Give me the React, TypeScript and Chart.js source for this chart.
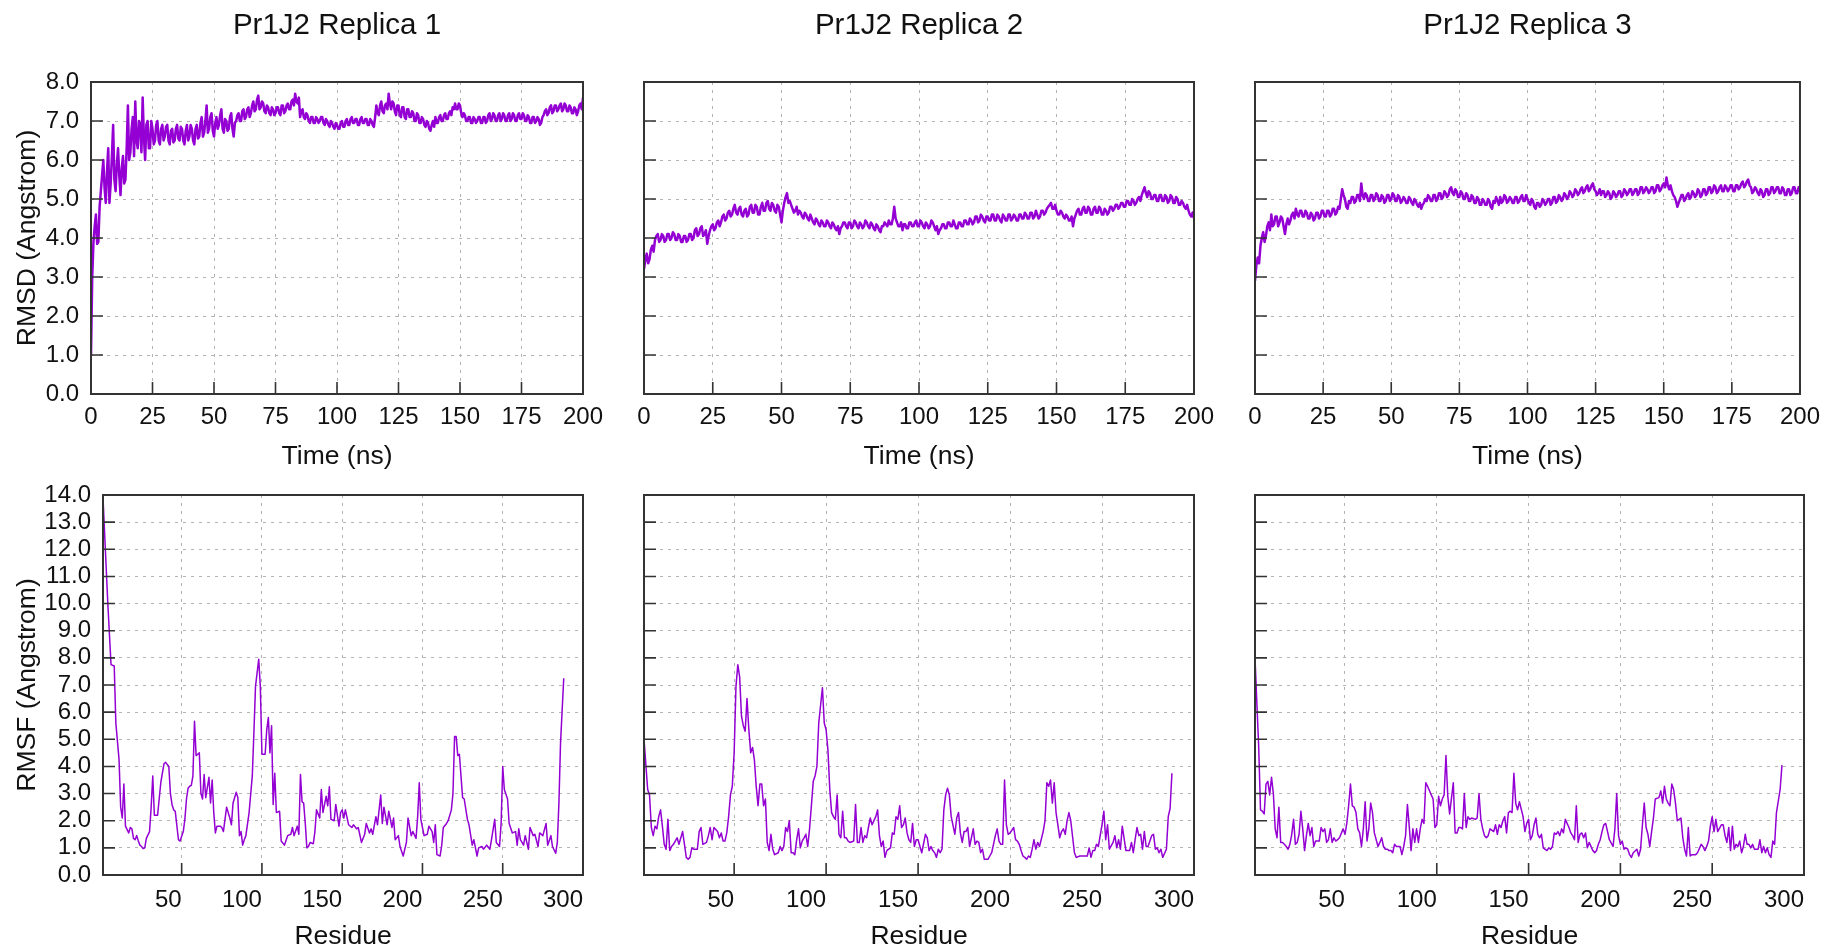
import React, { useEffect, useRef } from "react";
import { Chart, registerables } from "chart.js";

Chart.register(...registerables);

const PAGE_W = 1829;
const PAGE_H = 950;
const FONT = "'Liberation Sans', Arimo, Arial, Helvetica, sans-serif";
const LINE_COLOR = "#9400D3";
const TEXT_COLOR = "#111111";
const GRID_COLOR = "#b3b3b3";
const FRAME_COLOR = "#333333";

const TITLES = ["Pr1J2 Replica 1", "Pr1J2 Replica 2", "Pr1J2 Replica 3"];
const RMSD_AXIS_TITLE = "RMSD (Angstrom)";
const RMSF_AXIS_TITLE = "RMSF (Angstrom)";
const TIME_AXIS_TITLE = "Time (ns)";
const RESIDUE_AXIS_TITLE = "Residue";

const TIME_STEP_NS = 0.5;
const TIME_TICKS = [0, 25, 50, 75, 100, 125, 150, 175, 200];
const RMSD_TICKS = [0, 1, 2, 3, 4, 5, 6, 7, 8];
const RESIDUE_TICKS = [50, 100, 150, 200, 250, 300];
const RMSF_TICKS = [0, 1, 2, 3, 4, 5, 6, 7, 8, 9, 10, 11, 12, 13, 14];

// RMSD (Angstrom), one value per 0.5 ns, t = 0..200 (each row = 10 ns)
const RMSD1 = [
  1.0, 3.0, 3.9, 4.3, 4.6, 3.85, 3.9, 4.8, 5.2, 5.6, 6.0, 5.3, 4.9, 5.7, 6.3, 4.9, 5.4, 6.1, 6.9, 5.5,
  5.2, 5.9, 6.3, 5.6, 5.1, 5.8, 6.1, 5.4, 5.5, 6.3, 7.4, 6.0, 6.2, 6.8, 7.1, 6.1, 7.5, 6.5, 6.3, 7.0,
  6.9, 6.2, 7.6, 6.6, 6.0, 6.9, 7.0, 6.3, 6.3, 7.0, 6.8, 6.4, 6.5, 6.9, 7.0, 6.5, 6.4, 6.8, 6.9, 6.5,
  6.6, 6.85, 6.9, 6.5, 6.4, 6.75, 6.8, 6.45, 6.5, 6.8, 6.9, 6.55, 6.5, 6.85, 6.8, 6.5, 6.4, 6.75, 6.9, 6.5,
  6.6, 6.9, 6.8, 6.5, 6.4, 6.8, 6.9, 6.55, 6.6, 6.95, 7.1, 6.6, 6.7, 7.0, 7.4, 6.7, 6.8, 7.1, 7.2, 6.75,
  6.6, 6.95, 7.1, 6.8, 6.9, 7.15, 7.3, 6.8, 6.7, 7.05, 7.0, 6.75, 6.8, 7.1, 7.2, 6.8, 6.6, 6.95, 7.0, 7.15,
  7.2, 7.0, 7.0, 7.25, 7.3, 7.05, 7.1, 7.3, 7.35, 7.1, 7.2, 7.4, 7.5, 7.25, 7.3, 7.55, 7.65, 7.3, 7.35, 7.5,
  7.45, 7.25, 7.2, 7.4, 7.35, 7.2, 7.15, 7.35, 7.3, 7.15, 7.2, 7.35, 7.35, 7.2, 7.15, 7.4, 7.4, 7.2, 7.25, 7.4,
  7.45, 7.3, 7.3, 7.5, 7.55, 7.4, 7.7, 7.5, 7.45, 7.6, 7.1, 7.25, 7.3, 7.1, 7.05, 7.2, 7.15, 7.0, 6.95, 7.1,
  7.1, 6.95, 6.95, 7.1, 7.05, 6.95, 7.0, 7.1, 7.1, 6.95, 6.9, 7.05, 7.0, 6.9, 6.85, 7.0, 6.95, 6.85, 6.8, 6.95,
  6.9, 6.8, 6.8, 6.95, 7.0, 6.85, 6.85, 7.0, 7.05, 6.9, 6.9, 7.05, 7.1, 6.95, 6.95, 7.05, 7.05, 6.9, 6.9, 7.05,
  7.1, 6.95, 6.95, 7.05, 7.05, 6.9, 6.9, 7.05, 7.0, 6.9, 6.85, 7.1, 7.4, 7.2, 7.15, 7.4, 7.5, 7.25, 7.2, 7.4,
  7.45, 7.3, 7.7, 7.45, 7.3, 7.5, 7.45, 7.25, 7.15, 7.4, 7.4, 7.15, 7.1, 7.35, 7.35, 7.1, 7.05, 7.3, 7.3, 7.1,
  7.1, 7.25, 7.2, 7.0, 7.0, 7.2, 7.15, 6.95, 6.95, 7.1, 7.05, 6.9, 6.85, 7.0, 6.95, 6.8, 6.75, 6.9, 7.0, 6.85,
  7.1, 6.95, 6.95, 7.1, 7.15, 7.0, 7.0, 7.15, 7.2, 7.05, 7.05, 7.2, 7.25, 7.15, 7.35, 7.3, 7.45, 7.3, 7.3, 7.45,
  7.4, 7.2, 7.1, 7.2, 7.15, 7.0, 7.0, 7.1, 7.1, 6.95, 6.95, 7.1, 7.05, 6.95, 7.0, 7.1, 7.1, 6.95, 6.95, 7.1,
  7.1, 6.95, 7.0, 7.15, 7.2, 7.0, 7.05, 7.2, 7.15, 7.0, 7.0, 7.15, 7.2, 7.0, 7.05, 7.2, 7.15, 7.0, 7.0, 7.15,
  7.2, 7.0, 7.05, 7.2, 7.15, 7.0, 7.0, 7.15, 7.2, 7.05, 7.05, 7.2, 7.15, 7.0, 7.0, 7.15, 7.1, 6.95, 6.95, 7.1,
  7.1, 6.95, 7.0, 7.1, 7.05, 6.9, 6.95, 7.1, 7.15, 7.25, 7.3, 7.15, 7.2, 7.35, 7.4, 7.2, 7.25, 7.4, 7.4, 7.25,
  7.3, 7.4, 7.45, 7.25, 7.3, 7.45, 7.4, 7.25, 7.25, 7.4, 7.35, 7.2, 7.2, 7.35, 7.3, 7.15, 7.25, 7.4, 7.45, 7.3,
  7.6,
];
const RMSD2 = [
  3.2, 3.45, 3.6, 3.35, 3.45, 3.7, 3.8, 3.65, 3.95, 4.05, 4.1, 3.9, 3.95, 4.1, 4.05, 3.9, 3.95, 4.1, 4.1, 3.95,
  4.0, 4.15, 4.1, 3.95, 3.95, 4.1, 4.05, 3.9, 3.9, 4.05, 4.05, 3.9, 3.95, 4.1, 4.1, 3.95, 4.0, 4.2, 4.25, 4.05,
  4.1, 4.25, 4.3, 4.05, 4.1, 4.2, 3.85, 4.05, 4.2, 4.3, 4.35, 4.2, 4.25, 4.4, 4.45, 4.3, 4.4, 4.55, 4.6, 4.45,
  4.5, 4.65, 4.7, 4.55, 4.6, 4.75, 4.85, 4.65, 4.6, 4.75, 4.8, 4.6, 4.55, 4.7, 4.75, 4.55, 4.6, 4.8, 4.85, 4.65,
  4.65, 4.85, 4.8, 4.6, 4.6, 4.8, 4.9, 4.7, 4.7, 4.9, 4.95, 4.75, 4.7, 4.9, 4.85, 4.7, 4.65, 4.85, 4.8, 4.6,
  4.4, 4.7, 4.9, 5.05, 5.15, 4.9, 4.95, 4.85, 4.75, 4.65, 4.7, 4.8, 4.6, 4.7, 4.65, 4.55, 4.5, 4.65, 4.6, 4.5,
  4.45, 4.6, 4.5, 4.4, 4.35, 4.5, 4.45, 4.35, 4.3, 4.45, 4.4, 4.3, 4.3, 4.45, 4.4, 4.3, 4.25, 4.4, 4.35, 4.25,
  4.2, 4.3, 4.1, 4.25, 4.3, 4.4, 4.4, 4.3, 4.25, 4.4, 4.4, 4.25, 4.3, 4.45, 4.4, 4.3, 4.25, 4.4, 4.35, 4.25,
  4.3, 4.45, 4.4, 4.3, 4.25, 4.4, 4.35, 4.25, 4.2, 4.35, 4.3, 4.2, 4.15, 4.3, 4.3, 4.4, 4.35, 4.3, 4.45, 4.35,
  4.35, 4.5, 4.8, 4.5, 4.4, 4.3, 4.3, 4.4, 4.2, 4.35, 4.35, 4.25, 4.25, 4.4, 4.4, 4.3, 4.3, 4.4, 4.45, 4.3,
  4.3, 4.45, 4.4, 4.3, 4.25, 4.4, 4.35, 4.25, 4.3, 4.45, 4.4, 4.3, 4.2, 4.3, 4.1, 4.2, 4.25, 4.35, 4.35, 4.25,
  4.25, 4.4, 4.4, 4.3, 4.3, 4.45, 4.35, 4.25, 4.25, 4.4, 4.4, 4.3, 4.3, 4.45, 4.45, 4.35, 4.35, 4.5, 4.45, 4.35,
  4.4, 4.55, 4.55, 4.4, 4.45, 4.6, 4.55, 4.45, 4.4, 4.55, 4.55, 4.45, 4.45, 4.6, 4.6, 4.45, 4.45, 4.6, 4.55, 4.45,
  4.4, 4.6, 4.55, 4.45, 4.45, 4.6, 4.6, 4.45, 4.5, 4.6, 4.55, 4.45, 4.45, 4.6, 4.6, 4.5, 4.5, 4.65, 4.6, 4.5,
  4.5, 4.65, 4.65, 4.5, 4.55, 4.7, 4.6, 4.5, 4.55, 4.7, 4.7, 4.6, 4.65, 4.75, 4.8, 4.85, 4.9, 4.75, 4.75, 4.85,
  4.7, 4.6, 4.6, 4.7, 4.65, 4.55, 4.5, 4.6, 4.55, 4.45, 4.45, 4.55, 4.3, 4.5, 4.6, 4.7, 4.75, 4.6, 4.6, 4.75,
  4.8, 4.65, 4.65, 4.8, 4.75, 4.6, 4.6, 4.75, 4.8, 4.65, 4.65, 4.8, 4.75, 4.6, 4.6, 4.75, 4.7, 4.6, 4.65, 4.8,
  4.8, 4.7, 4.75, 4.85, 4.85, 4.75, 4.8, 4.9, 4.9, 4.8, 4.8, 4.95, 4.95, 4.85, 4.85, 5.0, 4.95, 4.85, 4.9, 5.0,
  5.05, 4.95, 5.1, 5.2, 5.3, 5.15, 5.05, 5.2, 5.15, 5.0, 5.0, 5.1, 5.1, 4.95, 4.95, 5.1, 5.1, 4.95, 4.95, 5.1,
  5.05, 4.9, 4.95, 5.1, 5.05, 4.9, 4.9, 5.05, 5.0, 4.85, 4.85, 4.95, 4.9, 4.8, 4.75, 4.85, 4.7, 4.6, 4.55, 4.65,
  4.5,
];
const RMSD3 = [
  2.9, 3.3, 3.5, 3.35, 3.8, 4.0, 4.15, 3.9, 4.05, 4.3, 4.4, 4.2, 4.6, 4.3, 4.35, 4.55, 4.55, 4.3, 4.4, 4.55,
  4.5, 4.3, 4.1, 4.35, 4.5, 4.35, 4.45, 4.6, 4.65, 4.5, 4.75, 4.6, 4.55, 4.7, 4.7, 4.55, 4.55, 4.7, 4.65, 4.5,
  4.5, 4.65, 4.6, 4.45, 4.5, 4.65, 4.65, 4.5, 4.55, 4.7, 4.7, 4.55, 4.55, 4.7, 4.7, 4.55, 4.6, 4.75, 4.75, 4.6,
  4.65, 4.8, 4.75, 5.0, 5.25, 5.1, 5.0, 4.8, 4.75, 4.95, 4.9, 5.05, 5.05, 4.9, 4.95, 5.1, 5.1, 4.95, 5.4, 5.1,
  5.0, 5.15, 5.1, 4.95, 4.95, 5.1, 5.1, 4.95, 5.0, 5.15, 5.1, 4.95, 4.95, 5.1, 5.05, 4.9, 4.95, 5.1, 5.1, 4.95,
  5.0, 5.15, 5.1, 4.95, 4.95, 5.1, 5.05, 4.9, 4.95, 5.05, 5.0, 4.9, 4.9, 5.05, 5.0, 4.9, 4.85, 5.0, 4.95, 4.85,
  4.8, 4.9, 4.75, 4.85, 4.9, 5.0, 4.95, 5.1, 5.05, 4.95, 4.95, 5.1, 5.1, 4.95, 5.0, 5.15, 5.15, 5.0, 5.05, 5.2,
  5.15, 5.05, 5.1, 5.25, 5.3, 5.15, 5.1, 5.25, 5.2, 5.05, 5.05, 5.2, 5.15, 5.0, 5.0, 5.15, 5.1, 4.95, 4.95, 5.1,
  5.05, 4.9, 4.9, 5.05, 5.0, 4.85, 4.85, 5.0, 4.95, 4.85, 4.85, 5.0, 4.95, 4.8, 4.75, 4.95, 4.9, 5.05, 4.95, 4.85,
  5.05, 4.9, 4.95, 5.1, 5.05, 4.9, 4.95, 5.05, 5.0, 4.9, 4.9, 5.05, 5.05, 4.9, 4.95, 5.05, 5.1, 4.95, 4.95, 5.1,
  5.0, 4.9, 4.85, 5.0, 4.95, 4.8, 4.75, 4.9, 4.9, 4.8, 4.85, 5.0, 4.95, 4.85, 4.9, 5.0, 5.0, 4.85, 4.9, 5.05,
  5.05, 4.9, 4.95, 5.1, 5.05, 4.95, 5.0, 5.15, 5.1, 5.0, 5.05, 5.2, 5.15, 5.05, 5.1, 5.25, 5.2, 5.1, 5.15, 5.25,
  5.3, 5.15, 5.2, 5.3, 5.35, 5.2, 5.25, 5.35, 5.4, 5.25, 5.2, 5.1, 5.15, 5.25, 5.1, 5.2, 5.2, 5.05, 5.1, 5.2,
  5.15, 5.0, 5.05, 5.2, 5.15, 5.05, 5.1, 5.2, 5.2, 5.05, 5.1, 5.25, 5.2, 5.1, 5.15, 5.25, 5.25, 5.1, 5.15, 5.25,
  5.25, 5.1, 5.15, 5.3, 5.3, 5.15, 5.2, 5.3, 5.25, 5.15, 5.2, 5.3, 5.3, 5.15, 5.2, 5.35, 5.35, 5.2, 5.25, 5.35,
  5.4, 5.3, 5.55, 5.35, 5.25, 5.35, 5.2, 5.1, 5.05, 4.95, 4.8, 4.9, 5.0, 5.1, 5.1, 4.95, 5.0, 5.1, 5.15, 5.0,
  5.05, 5.2, 5.15, 5.05, 5.1, 5.25, 5.2, 5.05, 5.1, 5.25, 5.25, 5.1, 5.15, 5.3, 5.3, 5.15, 5.2, 5.35, 5.3, 5.15,
  5.2, 5.3, 5.35, 5.2, 5.2, 5.35, 5.3, 5.2, 5.25, 5.35, 5.35, 5.2, 5.2, 5.35, 5.35, 5.25, 5.3, 5.4, 5.45, 5.3,
  5.35, 5.45, 5.5, 5.35, 5.3, 5.15, 5.2, 5.3, 5.25, 5.15, 5.1, 5.25, 5.2, 5.05, 5.1, 5.25, 5.25, 5.1, 5.15, 5.3,
  5.3, 5.15, 5.2, 5.3, 5.3, 5.15, 5.15, 5.3, 5.25, 5.1, 5.1, 5.25, 5.25, 5.1, 5.15, 5.3, 5.3, 5.15, 5.15, 5.3,
  5.25,
];

// RMSF (Angstrom) per residue
const RMSF1_RES = [
  1, 4, 6, 8, 9, 11, 12, 13, 14, 15,
  17, 18, 19, 20, 21, 22, 23, 24, 25, 26,
  27, 28, 30, 31, 32, 33, 35, 37, 39, 40,
  42, 43, 44, 45, 46, 48, 49, 51, 52, 53,
  54, 55, 56, 57, 58, 59, 60, 61, 62, 63,
  64, 65, 67, 68, 69, 70, 71, 72, 74, 75,
  76, 78, 80, 81, 82, 84, 85, 86, 87, 88,
  89, 90, 92, 94, 95, 96, 98, 99, 100, 102,
  103, 104, 105, 106, 107, 108, 109, 111, 112, 114,
  116, 118, 119, 120, 122, 123, 124, 125, 126, 127,
  128, 129, 130, 132, 133, 134, 136, 137, 138, 140,
  141, 142, 143, 145, 146, 148, 149, 150, 151, 152,
  154, 156, 157, 159, 160, 162, 164, 165, 167, 168,
  169, 171, 172, 174, 175, 176, 178, 179, 181, 182,
  183, 185, 186, 188, 190, 191, 193, 194, 196, 197,
  198, 199, 201, 203, 204, 206, 207, 208, 209, 211,
  212, 213, 215, 216, 218, 219, 220, 221, 222, 223,
  225, 226, 228, 229, 231, 232, 234, 235, 237, 238,
  240, 242, 243, 245, 246, 248, 249, 250, 251, 253,
  254, 256, 258, 259, 260, 261, 263, 264, 266, 267,
  269, 270, 272, 273, 275, 277, 278, 280, 281, 283,
  284, 285, 286, 288,
];
const RMSF1_VAL = [
  13.9, 10.0, 7.75, 7.7, 5.6, 4.25, 2.5, 2.1, 3.35, 1.8,
  1.55, 1.75, 1.7, 1.35, 1.3, 1.45, 1.25, 1.1, 1.05, 0.97,
  1.0, 1.35, 1.6, 2.5, 3.65, 2.2, 2.2, 3.4, 4.1, 4.15,
  4.0, 3.0, 2.6, 2.4, 2.35, 1.3, 1.25, 1.6, 2.05, 2.8,
  3.2, 3.27, 3.3, 3.64, 5.66, 4.4, 4.45, 4.5, 3.0, 2.8,
  3.7, 2.85, 3.6, 2.65, 3.5, 2.3, 1.55, 1.8, 1.8, 1.75,
  1.6, 2.5, 2.1, 1.85, 2.65, 3.05, 2.85, 1.45, 1.6, 1.1,
  1.3, 1.45, 2.3, 3.65, 5.25, 6.95, 7.95, 6.95, 4.45, 4.45,
  5.35, 5.8, 4.5, 5.5, 2.6, 3.75, 2.3, 2.35, 1.25, 1.1,
  1.45, 1.5, 1.75, 1.45, 1.8, 1.5, 3.7, 2.7, 2.65, 1.9,
  1.0, 1.05, 1.2, 1.15, 1.6, 2.4, 2.1, 3.15, 2.3, 2.9,
  2.55, 3.25, 2.05, 2.0, 2.6, 1.8, 2.3, 2.4, 2.1, 2.4,
  1.85, 1.75, 1.85, 1.7, 1.75, 1.2, 1.5, 1.9, 1.55, 1.7,
  1.5, 2.15, 1.85, 2.95, 1.9, 2.5, 1.85, 2.35, 1.75, 2.1,
  1.3, 1.45, 1.05, 0.7, 1.2, 2.1, 1.45, 1.6, 1.35, 2.15,
  3.4, 2.05, 1.45, 1.5, 1.8, 1.6, 1.2, 1.85, 0.75, 0.7,
  1.1, 1.75, 1.9, 2.0, 2.4, 3.0, 5.1, 5.1, 4.4, 4.45,
  2.85, 2.8, 2.05, 1.85, 1.1, 1.3, 0.7, 1.0, 1.05, 0.95,
  1.1, 0.95, 1.3, 2.05, 1.2, 1.05, 1.9, 4.0, 3.15, 2.8,
  1.9, 1.55, 1.6, 1.1, 1.7, 1.3, 1.1, 1.45, 0.95, 1.75,
  1.45, 1.5, 1.05, 1.55, 1.45, 1.9, 1.1, 1.45, 1.05, 0.8,
  1.2, 2.65, 4.85, 7.25,
];

const RMSF2_RES = [
  1, 3, 4, 5, 6, 7, 8, 9, 10, 11,
  12, 13, 14, 15, 16, 17, 19, 20, 22, 23,
  24, 25, 26, 27, 28, 30, 31, 32, 33, 35,
  36, 37, 38, 39, 41, 42, 43, 44, 45, 46,
  47, 48, 49, 50, 51, 52, 53, 54, 55, 56,
  57, 58, 59, 60, 61, 62, 63, 64, 65, 66,
  67, 68, 69, 70, 71, 72, 74, 75, 76, 77,
  78, 79, 80, 81, 82, 83, 84, 85, 86, 87,
  88, 89, 90, 91, 92, 93, 94, 95, 96, 98,
  99, 100, 101, 102, 103, 104, 105, 106, 107, 108,
  109, 110, 111, 112, 113, 115, 116, 117, 118, 119,
  120, 121, 122, 123, 124, 125, 127, 128, 129, 130,
  131, 132, 133, 134, 135, 136, 137, 138, 139, 140,
  141, 142, 143, 144, 145, 146, 147, 148, 149, 150,
  151, 152, 154, 155, 156, 157, 158, 159, 160, 161,
  162, 163, 164, 165, 166, 167, 168, 170, 171, 172,
  173, 174, 175, 176, 177, 178, 180, 181, 182, 183,
  184, 185, 186, 188, 189, 190, 191, 192, 193, 194,
  195, 196, 197, 198, 199, 200, 202, 203, 204, 205,
  206, 207, 208, 209, 210, 211, 212, 213, 214, 215,
  216, 218, 219, 220, 221, 222, 223, 224, 225, 226,
  227, 228, 229, 230, 231, 232, 233, 235, 236, 238,
  240, 242, 243, 244, 245, 246, 247, 248, 249, 250,
  251, 252, 253, 254, 256, 257, 258, 259, 260, 261,
  263, 265, 266, 267, 268, 269, 270, 271, 272, 273,
  274, 275, 277, 278, 279, 280, 281, 282, 283, 285,
  286, 287, 288,
];
const RMSF2_VAL = [
  5.0, 3.15, 2.95, 1.75, 1.45, 1.8, 1.7, 2.15, 2.4, 1.8,
  1.13, 0.95, 2.05, 0.9, 1.05, 1.13, 1.37, 1.13, 1.6, 1.13,
  0.65, 0.58, 0.65, 1.0, 0.95, 0.95, 1.6, 1.75, 1.13, 1.2,
  1.45, 1.75, 1.3, 1.75, 1.6, 1.37, 1.55, 1.25, 1.25, 1.55,
  2.15, 2.95, 3.27, 4.5, 6.95, 7.75, 7.3, 5.85, 5.5, 5.3,
  6.5, 5.35, 4.5, 4.7, 4.25, 3.27, 2.55, 3.35, 3.35, 2.55,
  2.8, 1.2, 0.9, 1.5, 0.95, 0.75, 0.82, 1.05, 0.9, 1.05,
  1.75, 1.6, 2.0, 0.82, 0.82, 0.75, 1.3, 1.7, 1.0, 1.25,
  1.37, 1.5, 1.05, 1.7, 2.55, 3.45, 3.65, 4.0, 5.6, 6.9,
  5.6, 5.35, 4.6, 3.15, 2.3, 2.15, 2.05, 2.95, 1.5, 1.37,
  2.35, 1.37, 1.37, 1.25, 1.2, 1.25, 2.6, 1.2, 1.2, 1.75,
  1.2, 1.45, 1.37, 1.75, 2.1, 1.85, 2.15, 2.4, 1.45, 1.05,
  1.25, 0.65, 0.9, 0.95, 1.0, 1.55, 1.5, 2.15, 2.05, 2.55,
  1.75, 1.85, 2.1, 1.55, 1.3, 1.2, 1.9, 1.05, 1.3, 1.3,
  1.05, 0.82, 1.5, 1.37, 0.9, 1.05, 0.9, 0.82, 0.65, 0.95,
  0.82, 0.95, 2.4, 2.95, 3.2, 2.95, 2.15, 1.5, 2.1, 2.3,
  1.55, 1.2, 1.6, 1.6, 1.75, 1.05, 1.7, 1.13, 1.25, 1.2,
  0.82, 0.95, 0.58, 0.58, 0.7, 0.82, 1.13, 1.45, 1.7, 1.25,
  1.13, 1.13, 3.5, 1.85, 1.5, 1.55, 1.75, 1.3, 1.25, 1.13,
  0.9, 0.7, 0.65, 0.58, 0.7, 0.65, 0.95, 1.3, 0.95, 1.2,
  1.05, 1.6, 2.0, 3.4, 3.27, 3.5, 2.65, 3.4, 2.3, 1.85,
  1.37, 1.6, 1.7, 1.5, 2.0, 2.3, 2.0, 0.82, 0.65, 0.7,
  0.7, 0.7, 1.0, 0.65, 0.9, 0.9, 1.13, 1.05, 1.45, 1.85,
  2.35, 1.3, 1.85, 0.95, 1.2, 1.45, 1.0, 1.3, 0.95, 1.8,
  0.9, 0.9, 1.2, 0.82, 1.3, 1.75, 1.45, 1.5, 0.95, 1.6,
  1.05, 1.05, 1.45, 1.5, 0.95, 1.0, 0.82, 0.95, 0.65, 0.95,
  2.15, 2.45, 3.75,
];

const RMSF3_RES = [
  1, 2, 3, 4, 5, 6, 7, 8, 9, 10,
  11, 12, 13, 14, 15, 16, 17, 18, 19, 20,
  21, 22, 23, 24, 25, 26, 27, 28, 29, 30,
  31, 32, 33, 34, 36, 37, 38, 39, 40, 41,
  42, 43, 44, 45, 46, 47, 49, 50, 51, 52,
  53, 54, 55, 56, 57, 58, 59, 60, 61, 62,
  63, 64, 65, 66, 68, 69, 70, 71, 72, 73,
  74, 75, 76, 77, 78, 80, 81, 82, 83, 84,
  85, 86, 87, 88, 89, 90, 91, 92, 93, 94,
  95, 97, 98, 99, 100, 101, 102, 103, 104, 105,
  106, 107, 109, 110, 111, 112, 113, 114, 115, 116,
  117, 118, 119, 121, 122, 123, 124, 125, 126, 127,
  128, 129, 131, 132, 133, 134, 135, 136, 137, 138,
  139, 140, 141, 142, 143, 144, 145, 147, 148, 149,
  150, 151, 152, 153, 154, 155, 156, 157, 158, 160,
  161, 162, 163, 164, 165, 166, 167, 168, 169, 170,
  172, 173, 174, 175, 176, 177, 178, 179, 180, 181,
  182, 183, 185, 186, 187, 188, 189, 190, 191, 192,
  193, 194, 196, 197, 198, 199, 200, 201, 202, 203,
  204, 205, 206, 207, 209, 210, 211, 212, 213, 214,
  215, 216, 217, 218, 219, 221, 222, 223, 224, 225,
  226, 227, 228, 229, 230, 231, 233, 234, 235, 236,
  237, 238, 239, 240, 241, 242, 244, 245, 246, 247,
  248, 249, 250, 251, 252, 253, 255, 256, 257, 258,
  259, 260, 261, 262, 263, 264, 265, 266, 267, 268,
  269, 270, 271, 272, 273, 275, 276, 277, 278, 279,
  280, 281, 282, 283, 284, 285, 287, 288,
];
const RMSF3_VAL = [
  8.0, 6.35, 4.75, 2.4, 2.35, 2.25, 3.35, 3.45, 2.95, 3.6,
  3.0, 1.7, 1.37, 2.5, 1.2, 1.2, 1.13, 1.05, 0.95, 1.13,
  1.5, 2.05, 1.13, 1.2, 1.5, 2.35, 1.7, 0.9, 1.45, 1.9,
  1.45, 1.75, 1.05, 1.25, 1.25, 1.75, 1.6, 1.7, 1.2, 1.3,
  1.7, 1.2, 1.37, 1.25, 1.3, 1.37, 1.7, 1.5, 1.9, 2.55,
  3.35, 2.55, 2.5, 2.3, 1.7, 1.55, 1.05, 1.7, 2.7, 1.25,
  1.7, 2.65, 2.3, 1.55, 1.05, 1.2, 1.37, 1.05, 0.95, 0.95,
  0.9, 0.9, 0.82, 1.13, 1.05, 1.05, 0.75, 1.05, 1.45, 2.6,
  1.8, 0.9, 1.7, 1.2, 1.7, 1.2, 1.7, 2.05, 1.9, 3.4,
  3.27, 2.95, 2.8, 1.75, 1.85, 2.9, 2.55, 2.8, 2.95, 4.4,
  2.9, 2.25, 3.4, 1.55, 1.55, 1.75, 1.75, 1.7, 3.0, 1.75,
  2.15, 2.05, 2.1, 2.05, 2.1, 3.0, 2.05, 1.7, 1.45, 1.37,
  1.45, 1.7, 1.6, 1.85, 1.5, 1.85, 1.75, 2.0, 2.15, 1.55,
  2.3, 2.35, 2.3, 3.75, 2.65, 2.4, 2.7, 2.15, 1.6, 1.9,
  2.05, 1.3, 1.45, 1.85, 2.1, 1.5, 1.37, 1.5, 1.0, 0.9,
  1.0, 0.95, 1.05, 1.55, 1.5, 1.6, 1.45, 1.7, 1.55, 2.05,
  1.75, 1.55, 1.45, 1.3, 2.55, 1.2, 1.5, 1.55, 1.37, 1.55,
  1.0, 1.2, 0.9, 0.82, 0.9, 1.13, 1.3, 1.6, 1.85, 1.9,
  1.6, 1.3, 1.05, 1.7, 3.0, 1.45, 1.13, 1.25, 0.95, 1.0,
  0.95, 0.75, 0.65, 0.82, 0.95, 0.7, 0.95, 1.85, 2.65, 1.75,
  1.5, 1.05, 1.6, 2.1, 2.8, 2.85, 3.1, 2.65, 3.27, 2.8,
  2.65, 2.55, 3.35, 3.15, 2.65, 2.0, 2.1, 1.37, 0.95, 0.7,
  1.75, 0.7, 0.75, 0.75, 0.75, 0.82, 1.13, 1.05, 0.9, 1.05,
  1.25, 1.8, 2.15, 1.6, 2.05, 1.6, 1.85, 1.85, 1.45, 1.2,
  1.75, 0.9, 1.8, 0.95, 1.13, 1.05, 1.25, 0.82, 1.05, 1.5,
  1.13, 1.13, 1.0, 1.13, 0.95, 0.95, 1.3, 0.82, 1.05, 0.82,
  1.0, 0.75, 0.65, 1.25, 1.13, 2.3, 3.15, 4.05,
];

type Pt = { x: number; y: number };

const timePoints = (vals: number[]): Pt[] =>
  vals.map((v, i) => ({ x: i * TIME_STEP_NS, y: v }));
const residuePoints = (res: number[], vals: number[]): Pt[] =>
  res.map((r, i) => ({ x: r, y: vals[i] }));

type PanelSpec = {
  title?: string;
  points: Pt[];
  lineWidth: number;
  padLeft: number;
  left: number;
  right: number;
  top: number;
  bottom: number;
  scaleBottom: number;
  xMin: number;
  xMax: number;
  xTicks: number[];
  xAlign: "center" | "end";
  xTickPad: number;
  xTitle: string;
  xTitlePadBottom: number;
  yMax: number;
  yTicks: number[];
  yTitle?: string;
  showYLabels: boolean;
};

const TOP_ROW = { top: 82, bottom: 394, scaleBottom: 480, xTitlePadBottom: 10, xTickPad: 9 };
const BOTTOM_ROW = { top: 495, bottom: 875, scaleBottom: 950, xTitlePadBottom: 0, xTickPad: 10.5 };
const COLS = [
  { padLeft: 0, left: 91, leftBottom: 103, right: 583 },
  { padLeft: 600, left: 644, leftBottom: 644, right: 1194 },
  { padLeft: 1211, left: 1255, leftBottom: 1255, right: 1804 },
];

const RMSD_SERIES = [RMSD1, RMSD2, RMSD3];
const RMSF_SERIES: [number[], number[]][] = [
  [RMSF1_RES, RMSF1_VAL],
  [RMSF2_RES, RMSF2_VAL],
  [RMSF3_RES, RMSF3_VAL],
];

const PANELS: PanelSpec[] = [
  ...COLS.map((c, i) => ({
    title: TITLES[i],
    points: timePoints(RMSD_SERIES[i]),
    lineWidth: 2.5,
    padLeft: c.padLeft,
    left: c.left,
    right: c.right,
    top: TOP_ROW.top,
    bottom: TOP_ROW.bottom,
    scaleBottom: TOP_ROW.scaleBottom,
    xMin: 0,
    xMax: 200,
    xTicks: TIME_TICKS,
    xAlign: "center" as const,
    xTickPad: TOP_ROW.xTickPad,
    xTitle: TIME_AXIS_TITLE,
    xTitlePadBottom: TOP_ROW.xTitlePadBottom,
    yMax: 8,
    yTicks: RMSD_TICKS,
    yTitle: i === 0 ? RMSD_AXIS_TITLE : undefined,
    showYLabels: i === 0,
  })),
  ...COLS.map((c, i) => ({
    points: residuePoints(RMSF_SERIES[i][0], RMSF_SERIES[i][1]),
    lineWidth: 1.5,
    padLeft: c.padLeft,
    left: c.leftBottom,
    right: c.right,
    top: BOTTOM_ROW.top,
    bottom: BOTTOM_ROW.bottom,
    scaleBottom: BOTTOM_ROW.scaleBottom,
    xMin: 1,
    xMax: 300,
    xTicks: RESIDUE_TICKS,
    xAlign: "end" as const,
    xTickPad: BOTTOM_ROW.xTickPad,
    xTitle: RESIDUE_AXIS_TITLE,
    xTitlePadBottom: BOTTOM_ROW.xTitlePadBottom,
    yMax: 14,
    yTicks: RMSF_TICKS,
    yTitle: i === 0 ? RMSF_AXIS_TITLE : undefined,
    showYLabels: i === 0,
  })),
];

const framePlugin = {
  id: "gnuplotFrame",
  afterDatasetsDraw(chart: any) {
    const { ctx, chartArea: a, scales } = chart;
    const xs = scales.x;
    const ys = scales.y;
    ctx.save();
    ctx.setLineDash([]);
    ctx.strokeStyle = FRAME_COLOR;
    ctx.lineWidth = 1.6;
    ctx.beginPath();
    for (const t of xs.ticks) {
      const px = xs.getPixelForValue(t.value);
      ctx.moveTo(px, a.bottom);
      ctx.lineTo(px, a.bottom - 12);
    }
    for (const t of ys.ticks) {
      const py = ys.getPixelForValue(t.value);
      ctx.moveTo(a.left, py);
      ctx.lineTo(a.left + 12, py);
    }
    ctx.stroke();
    ctx.lineWidth = 2;
    ctx.strokeRect(a.left, a.top, a.right - a.left, a.bottom - a.top);
    ctx.restore();
  },
};

const TITLE_SIZE = 29.5;
const TITLE_LH = 1.2;
const TITLE_PAD_TOP = 8.5;
const TICK_SIZE = 24;
const AXIS_TITLE_SIZE = 26.5;

function buildConfig(p: PanelSpec): any {
  const hasTitle = !!p.title;
  return {
    type: "line",
    data: {
      datasets: [
        {
          data: p.points,
          borderColor: LINE_COLOR,
          borderWidth: p.lineWidth,
          borderJoinStyle: "round",
          pointRadius: 0,
          pointHoverRadius: 0,
          tension: 0,
          fill: false,
        },
      ],
    },
    options: {
      animation: false,
      responsive: false,
      maintainAspectRatio: false,
      devicePixelRatio: 1,
      events: [],
      layout: {
        padding: {
          left: p.padLeft,
          right: PAGE_W - p.right,
          top: hasTitle ? 0 : p.top,
          bottom: PAGE_H - p.scaleBottom,
        },
      },
      plugins: {
        legend: { display: false },
        tooltip: { enabled: false },
        title: {
          display: hasTitle,
          text: p.title || "",
          fullSize: false,
          align: "center",
          color: TEXT_COLOR,
          font: { family: FONT, size: TITLE_SIZE, weight: "normal", lineHeight: TITLE_LH },
          padding: { top: TITLE_PAD_TOP, bottom: p.top - TITLE_PAD_TOP - TITLE_SIZE * TITLE_LH },
        },
      },
      scales: {
        x: {
          type: "linear",
          position: "bottom",
          min: p.xMin,
          max: p.xMax,
          afterBuildTicks: (s: any) => {
            s.ticks = p.xTicks.map((v) => ({ value: v }));
          },
          afterFit: (s: any) => {
            s.height = p.scaleBottom - p.bottom;
          },
          ticks: {
            autoSkip: false,
            maxRotation: 0,
            minRotation: 0,
            align: p.xAlign,
            padding: p.xTickPad,
            color: TEXT_COLOR,
            font: { family: FONT, size: TICK_SIZE },
            callback: (v: any) => String(v),
          },
          grid: { color: GRID_COLOR, lineWidth: 1, drawTicks: false },
          border: { display: false, dash: [3, 5] },
          title: {
            display: true,
            text: p.xTitle,
            color: TEXT_COLOR,
            font: { family: FONT, size: AXIS_TITLE_SIZE, lineHeight: 1 },
            padding: { top: 0, bottom: p.xTitlePadBottom },
          },
        },
        y: {
          type: "linear",
          position: "left",
          min: 0,
          max: p.yMax,
          afterBuildTicks: (s: any) => {
            s.ticks = p.yTicks.map((v) => ({ value: v }));
          },
          afterFit: (s: any) => {
            s.width = p.left - p.padLeft;
          },
          ticks: {
            display: p.showYLabels,
            autoSkip: false,
            padding: 12,
            color: TEXT_COLOR,
            font: { family: FONT, size: TICK_SIZE },
            callback: (v: any) => Number(v).toFixed(1),
          },
          grid: { color: GRID_COLOR, lineWidth: 1, drawTicks: false },
          border: { display: false, dash: [3, 5] },
          title: {
            display: !!p.yTitle,
            text: p.yTitle || "",
            color: TEXT_COLOR,
            font: { family: FONT, size: AXIS_TITLE_SIZE, lineHeight: 1 },
            padding: { top: 14.5, bottom: 0 },
          },
        },
      },
    },
    plugins: [framePlugin],
  };
}

export default function App() {
  const refs = useRef<(HTMLCanvasElement | null)[]>([]);

  useEffect(() => {
    const charts = PANELS.map((p, i) => new Chart(refs.current[i] as HTMLCanvasElement, buildConfig(p)));
    return () => {
      charts.forEach((c) => c.destroy());
    };
  }, []);

  return (
    <div
      style={{
        position: "absolute",
        left: 0,
        top: 0,
        width: PAGE_W,
        height: PAGE_H,
        background: "#ffffff",
        overflow: "hidden",
      }}
    >
      {PANELS.map((_, i) => (
        <canvas
          key={i}
          ref={(el) => {
            refs.current[i] = el;
          }}
          width={PAGE_W}
          height={PAGE_H}
          style={{ position: "absolute", left: 0, top: 0, width: PAGE_W, height: PAGE_H }}
        />
      ))}
    </div>
  );
}
